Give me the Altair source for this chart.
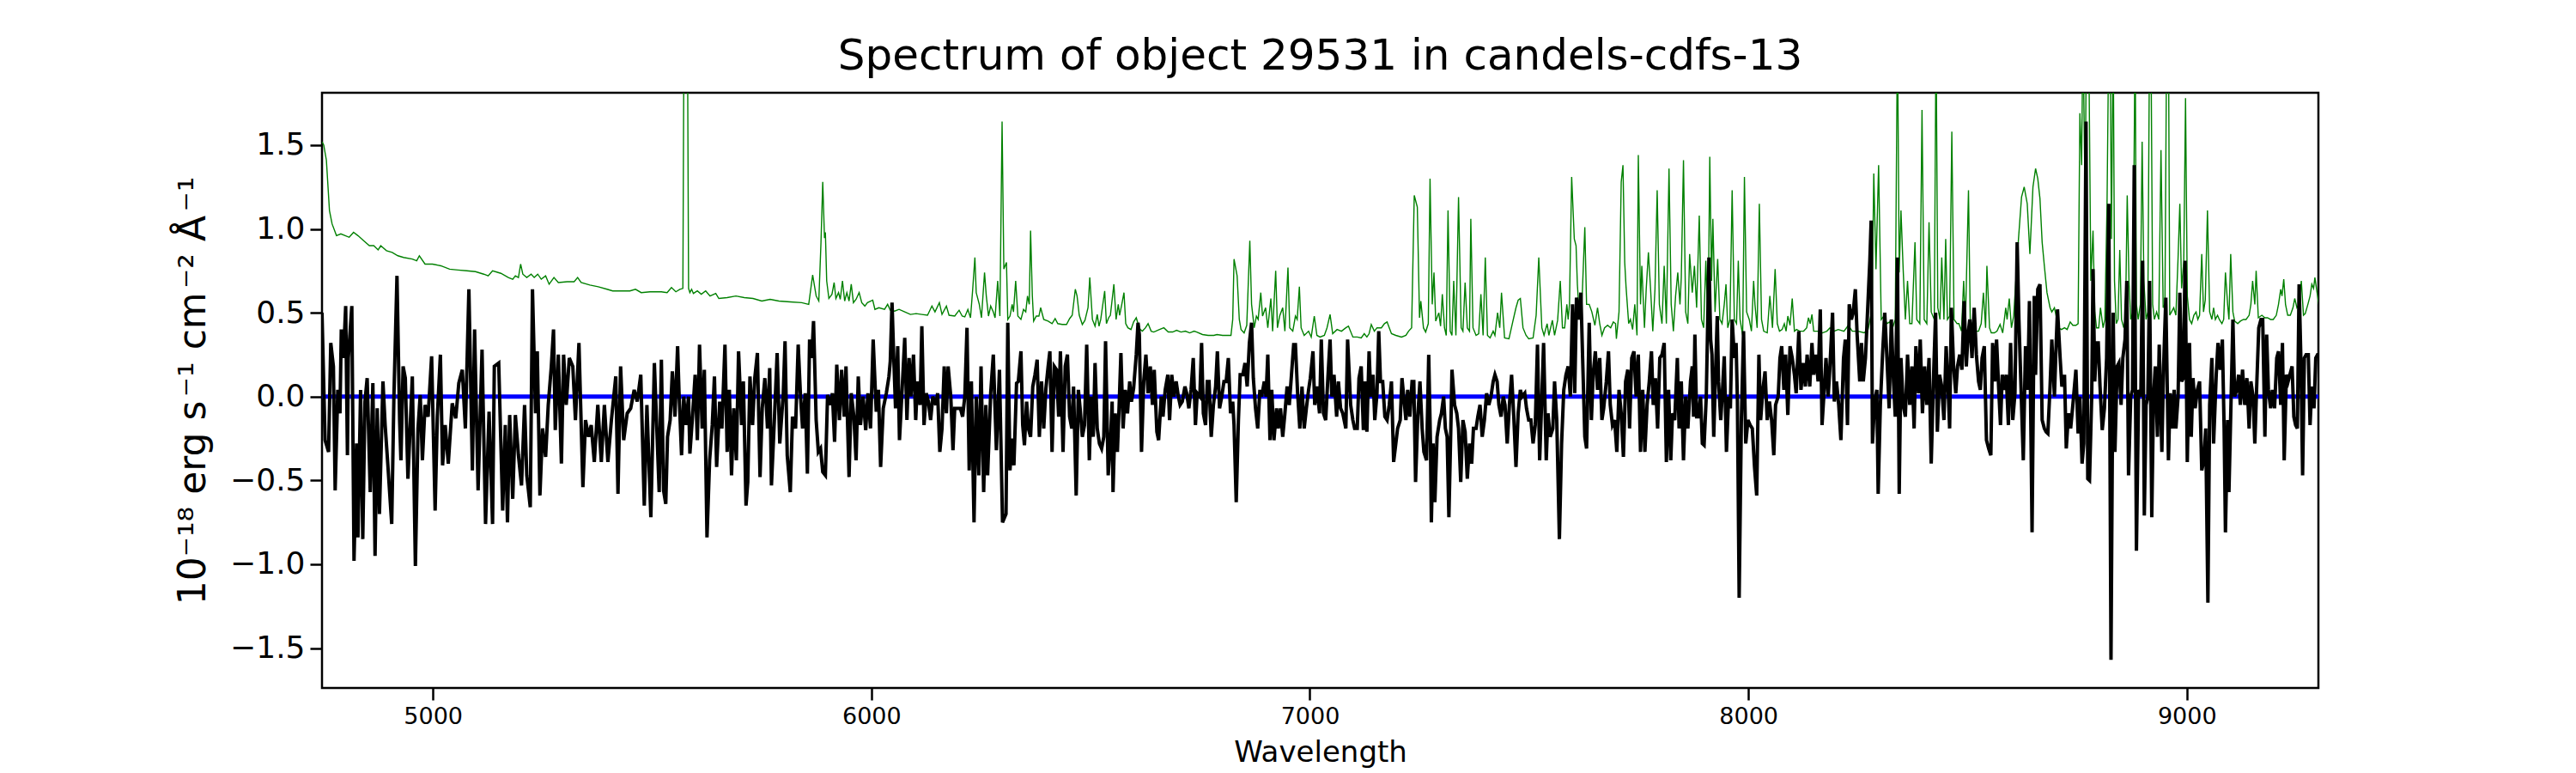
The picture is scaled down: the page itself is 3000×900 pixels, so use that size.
import altair as alt
import pandas as pd

TITLE = "Spectrum of object 29531 in candels-cdfs-13"
X_TITLE = "Wavelength"
Y_TITLE = "10\u207b\u00b9\u2078 erg s\u200a\u207b\u00b9 cm\u200a\u207b\u00b2 \u00c5\u200a\u207b\u00b9"

X_TICKS = [5000, 6000, 7000, 8000, 9000]
Y_TICKS = [-1.5, -1.0, -0.5, 0.0, 0.5, 1.0, 1.5]
X_DOMAIN = [4747, 9300]
Y_DOMAIN = [-1.738, 1.812]

BLACK_A = [(4747,0.50),(4754,-0.26),(4762,-0.33),(4767,0.32),(4773,0.18),(4777,-0.56),(4783,0.04),(4788,-0.10),(4791,0.40),(4796,0.23),(4801,0.54),(4805,-0.35),(4807,0.23),(4815,0.54),(4820,-0.98),(4826,-0.28),(4829,-0.84),(4835,0.04),(4840,-0.85),(4845,-0.03),(4850,0.11),(4857,-0.57),(4863,0.08),(4868,-0.95),(4873,-0.07),(4878,-0.70),(4886,0.09),(4891,-0.17),(4897,-0.40),(4906,-0.76),(4911,0.00),(4918,0.72),(4924,-0.14),(4927,-0.38),(4932,0.18),(4937,0.11),(4943,-0.49),(4953,0.12),(4960,-1.01),(4966,-0.19),(4971,0.01),(4976,-0.38),(4982,-0.05),(4989,-0.12),(4997,0.24),(5005,-0.68),(5010,-0.12),(5017,0.25),(5022,-0.41),(5028,-0.17),(5035,-0.40),(5044,-0.04),(5052,-0.13),(5059,0.08),(5067,0.16),(5074,-0.19),(5082,0.64),(5090,-0.44),(5095,0.40),(5103,-0.56),(5112,0.28),(5120,-0.76),(5128,-0.09),(5136,-0.76),(5140,0.18),(5150,0.20),(5159,-0.68),(5165,-0.17),(5170,-0.75),(5175,-0.11),(5182,-0.61),(5188,-0.11),(5195,-0.35),(5202,-0.53),(5209,-0.05),(5214,-0.47),(5222,-0.66),(5227,0.64),(5234,-0.10),(5238,0.27),(5244,-0.59),(5250,-0.19),(5257,-0.36),(5263,-0.05),(5270,0.18),(5275,0.40),(5279,-0.20),(5286,0.25),(5293,-0.40),(5298,0.25),(5304,-0.05),(5311,0.23),(5319,0.18),(5325,-0.14),(5333,0.32),(5342,-0.54),(5348,-0.14),(5355,-0.24),(5361,-0.17),(5368,-0.39),(5376,-0.05),(5384,-0.39),(5391,-0.05),(5399,-0.39),(5407,-0.14),(5417,0.12),(5422,-0.58),(5428,0.18),(5435,-0.26),(5443,-0.10),(5451,-0.07),(5459,0.04),(5466,-0.03),(5474,0.13),(5482,-0.65),(5488,-0.05),(5497,-0.72),(5505,0.20),(5516,-0.57)]
BLACK_B = [(5521,0.22),(5526,-0.56),(5531,-0.64),(5535,-0.24),(5541,-0.14),(5546,0.15),(5552,-0.12),(5558,0.30),(5561,0.04),(5567,-0.35),(5572,0.00),(5577,-0.17),(5583,0.00),(5586,-0.34),(5592,-0.12),(5598,0.13),(5603,-0.26),(5608,0.31),(5614,-0.19),(5619,0.16),(5625,-0.84),(5631,-0.38),(5637,-0.17),(5642,0.12),(5647,-0.42),(5654,-0.03),(5659,-0.19),(5666,0.31),(5671,-0.33),(5676,0.04),(5681,-0.47),(5686,-0.07),(5692,-0.38),(5697,0.27),(5704,-0.17),(5708,0.09),(5714,-0.65),(5718,-0.51),(5723,0.12),(5729,-0.17),(5734,0.11),(5740,0.26),(5746,-0.48),(5751,-0.07),(5757,0.11),(5763,-0.19),(5768,0.17),(5772,-0.53),(5779,-0.12),(5785,0.26),(5791,-0.28),(5799,0.02),(5803,0.33),(5808,-0.35),(5815,-0.57),(5820,-0.12),(5827,-0.19),(5833,0.31),(5838,0.02),(5843,-0.19),(5849,0.02),(5854,-0.46),(5859,0.34),(5864,0.23),(5868,0.45),(5874,-0.14),(5879,-0.33),(5884,-0.31),(5889,-0.45),(5895,-0.47),(5900,0.01),(5906,-0.05),(5911,0.02),(5916,-0.27),(5921,0.19),(5927,-0.14),(5932,0.16),(5938,-0.12),(5942,0.18),(5949,-0.48),(5954,0.02),(5960,-0.12),(5965,-0.38),(5970,0.12),(5975,-0.17),(5981,0.00),(5987,-0.20),(5992,0.02),(5998,-0.19),(6004,0.34),(6011,-0.09),(6016,0.04),(6021,-0.42),(6027,-0.07),(6034,0.02),(6040,0.12),(6043,0.21),(6047,0.56),(6051,0.23),(6055,-0.07),(6060,0.30),(6064,-0.26),(6070,0.04),(6076,0.35),(6081,-0.14),(6086,0.23),(6090,0.00),(6096,0.25),(6101,-0.14),(6105,0.09),(6111,-0.05),(6115,0.42),(6120,-0.17),(6125,0.02),(6130,-0.03),(6135,-0.14),(6140,0.00),(6147,-0.05),(6151,0.02),(6156,-0.33),(6161,-0.19),(6166,0.18),(6171,-0.10),(6175,0.18),(6181,0.00),(6186,-0.32),(6190,-0.07),(6197,-0.07),(6203,-0.07),(6208,-0.12),(6213,0.00),(6218,0.41),(6223,-0.44),(6228,0.09),(6234,-0.75),(6239,0.00),(6245,-0.47),(6250,0.18),(6256,-0.57),(6261,-0.05),(6265,-0.47),(6272,0.02),(6278,0.25),(6285,-0.32),(6292,0.16),(6299,-0.75)]
BLACK_C = [(6307,-0.70),(6311,0.44),(6316,-0.44),(6321,-0.25),(6325,-0.41),(6331,0.08),(6335,0.09),(6341,0.27),(6345,-0.17),(6349,-0.29),(6354,-0.03),(6358,-0.19),(6363,-0.24),(6368,0.06),(6373,0.13),(6378,0.22),(6383,-0.24),(6388,0.09),(6393,-0.19),(6398,0.05),(6403,0.18),(6407,0.27),(6412,-0.33),(6417,0.18),(6422,0.16),(6427,-0.12),(6431,0.27),(6437,-0.33),(6442,0.18),(6447,0.25),(6452,-0.12),(6457,-0.19),(6461,0.06),(6467,-0.59),(6472,0.04),(6476,-0.07),(6481,-0.24),(6486,-0.17),(6491,0.31),(6497,-0.38),(6501,0.00),(6506,-0.24),(6510,0.20),(6515,-0.19),(6520,-0.28),(6525,-0.31),(6530,-0.24),(6534,0.33),(6540,-0.47),(6545,-0.28),(6549,-0.03),(6551,-0.57),(6556,-0.10),(6561,-0.33),(6565,-0.05),(6569,0.26),(6574,-0.19),(6579,0.04),(6584,-0.10),(6589,0.09),(6593,-0.03),(6598,0.05),(6604,0.25),(6608,0.44),(6611,0.37),(6616,-0.33),(6621,0.09),(6626,0.25),(6631,0.02),(6636,0.18),(6641,-0.05),(6645,0.16),(6651,-0.21),(6655,-0.26),(6661,0.00),(6665,-0.12),(6670,0.04),(6676,0.13),(6680,-0.14),(6685,0.13),(6690,0.00),(6695,0.09),(6700,0.00),(6704,-0.05),(6709,-0.03),(6715,0.06),(6719,0.02),(6724,-0.07),(6729,0.04),(6734,0.23),(6739,-0.17),(6743,0.02),(6749,0.00),(6753,0.32),(6757,-0.10),(6762,-0.17),(6766,0.09),(6770,0.09),(6775,-0.24),(6780,-0.05),(6785,0.06),(6789,0.27),(6794,-0.07),(6799,0.00),(6804,0.09),(6809,0.09),(6814,0.23),(6819,-0.10),(6824,-0.03),(6827,-0.17),(6832,-0.63),(6837,-0.14),(6841,0.13),(6847,0.13),(6852,0.20),(6857,0.06),(6862,0.32),(6867,0.44),(6871,0.11),(6876,-0.07),(6881,-0.19),(6886,0.04),(6890,0.00),(6896,0.09),(6900,0.00),(6904,0.25),(6909,-0.26),(6913,0.04),(6918,-0.26),(6924,-0.07),(6928,-0.19),(6933,-0.07),(6938,-0.24),(6943,-0.10),(6948,0.06),(6953,-0.05),(6958,0.13),(6963,0.31),(6967,0.31),(6972,0.02),(6977,-0.19),(6982,0.06),(6987,-0.19),(6992,-0.07),(6997,0.04),(7001,0.11),(7007,0.27),(7011,-0.05),(7016,0.06),(7022,-0.10),(7026,0.34),(7031,-0.10),(7036,-0.14),(7041,0.11),(7046,0.34),(7050,0.00),(7055,0.13),(7061,-0.12),(7065,0.09),(7070,-0.07),(7075,-0.10),(7082,-0.19),(7086,0.34)]
BLACK_D = [(7093,-0.05),(7098,-0.14),(7102,-0.19),(7108,-0.19),(7112,0.11),(7117,0.18),(7122,-0.20),(7126,0.09),(7130,-0.21),(7135,0.27),(7139,0.00),(7144,0.13),(7148,-0.14),(7153,0.02),(7157,0.39),(7161,0.09),(7166,0.09),(7171,-0.12),(7176,-0.14),(7181,-0.05),(7186,0.09),(7191,-0.39),(7196,-0.28),(7200,-0.19),(7206,-0.14),(7210,0.11),(7214,0.00),(7219,-0.14),(7223,0.04),(7228,-0.12),(7233,0.09),(7237,0.09),(7241,-0.51),(7246,-0.12),(7251,0.09),(7256,-0.19),(7260,-0.33),(7266,-0.38),(7271,0.25),(7275,-0.28),(7277,-0.75),(7281,-0.28),(7285,-0.63),(7290,-0.24),(7296,-0.14),(7300,-0.10),(7305,0.00),(7309,-0.19),(7313,-0.24),(7317,-0.72),(7322,-0.12),(7324,0.16),(7330,-0.05),(7335,-0.10),(7339,-0.19),(7344,-0.51),(7349,-0.14),(7354,-0.21),(7359,-0.49),(7364,-0.28),(7369,-0.40),(7373,-0.19),(7379,-0.19),(7383,-0.12),(7388,-0.05),(7393,-0.24),(7398,-0.14),(7403,0.02),(7408,-0.05),(7413,0.00),(7418,0.09),(7422,0.13),(7427,0.09),(7431,-0.05),(7436,-0.12),(7441,0.00),(7445,-0.05),(7450,-0.28),(7455,-0.05),(7460,0.13),(7465,-0.12),(7470,-0.42),(7475,-0.10),(7480,0.04),(7484,0.00),(7490,0.02),(7494,-0.07),(7499,-0.14),(7504,-0.14),(7509,-0.28),(7514,-0.17),(7519,0.31),(7524,-0.38),(7529,0.00),(7533,0.32),(7539,-0.38),(7543,-0.10),(7548,-0.24),(7554,-0.19),(7558,0.09),(7563,-0.14),(7569,-0.85),(7574,-0.28),(7579,0.04),(7584,0.13),(7589,0.18),(7594,0.00),(7599,0.55),(7604,0.02),(7608,0.59),(7614,0.46),(7618,0.62),(7622,0.23),(7627,-0.24),(7631,-0.31),(7637,0.44),(7642,-0.14),(7646,0.13),(7651,0.27),(7656,0.04),(7661,0.23),(7666,-0.14),(7670,-0.07),(7676,0.09),(7681,0.27),(7685,-0.05),(7690,-0.17),(7695,-0.14),(7700,-0.33),(7705,0.04),(7710,-0.10),(7715,-0.36),(7720,0.09),(7725,0.16),(7729,-0.19),(7734,0.23),(7739,0.27),(7744,0.00),(7749,0.25),(7754,-0.33),(7759,0.04),(7764,-0.33),(7769,-0.05),(7774,0.09),(7779,0.27),(7783,-0.05),(7788,0.11),(7793,-0.19),(7798,0.23),(7803,0.25),(7808,0.32),(7813,-0.39),(7818,0.04),(7823,-0.38),(7827,-0.10),(7832,-0.14),(7838,0.23),(7842,-0.19),(7847,0.09),(7852,-0.38),(7857,0.00),(7862,-0.19),(7868,0.09)]
BLACK_E = [(7872,0.18),(7875,-0.12),(7878,0.37),(7882,-0.12),(7886,-0.12),(7891,0.00),(7895,-0.28),(7899,-0.29),(7904,0.00),(7910,0.83),(7914,0.34),(7917,0.25),(7921,-0.24),(7924,0.04),(7929,0.48),(7932,0.09),(7937,-0.14),(7941,0.04),(7945,0.24),(7950,-0.33),(7955,0.00),(7959,-0.07),(7963,0.46),(7968,0.23),(7972,0.32),(7975,-0.03),(7979,-1.20),(7984,-0.14),(7989,0.39),(7994,-0.28),(7999,-0.14),(8004,-0.17),(8009,-0.19),(8014,-0.42),(8019,-0.59),(8024,0.25),(8028,-0.14),(8033,0.04),(8038,0.15),(8043,-0.14),(8048,-0.03),(8053,-0.14),(8058,-0.35),(8062,-0.05),(8068,0.00),(8072,0.23),(8076,0.30),(8081,0.04),(8085,0.25),(8090,-0.11),(8095,0.30),(8100,0.23),(8105,0.13),(8109,0.02),(8115,0.39),(8120,0.04),(8125,0.20),(8130,0.06),(8134,0.25),(8140,0.06),(8145,0.32),(8149,0.13),(8154,0.25),(8159,0.09),(8164,0.52),(8168,-0.17),(8172,0.00),(8177,0.23),(8182,0.00),(8186,0.18),(8192,0.50),(8196,-0.03),(8201,0.09),(8206,-0.05),(8211,-0.26),(8217,0.23),(8221,0.34),(8226,-0.17),(8230,0.55),(8235,0.46),(8239,0.50),(8244,0.64),(8248,0.37),(8254,0.09),(8258,0.32),(8262,0.09),(8267,0.23),(8271,0.46),(8277,0.81),(8280,1.05),(8283,-0.28),(8288,-0.03),(8293,0.04),(8296,-0.58),(8301,-0.05),(8306,0.25),(8311,0.50),(8316,0.23),(8321,-0.07),(8326,0.46),(8331,0.09),(8335,-0.12),(8340,0.83),(8344,-0.58),(8348,0.23),(8353,-0.05),(8358,-0.12),(8363,0.25),(8368,-0.05),(8373,0.18),(8378,-0.19),(8382,0.30),(8388,0.02),(8392,0.34),(8397,-0.10),(8402,0.18),(8407,-0.05),(8412,0.23),(8417,-0.40),(8422,0.09),(8427,0.50),(8431,-0.21),(8436,0.13),(8441,0.06),(8446,-0.14),(8451,0.30),(8455,0.09),(8459,-0.19),(8463,0.53),(8468,0.18),(8473,0.02),(8477,0.18),(8482,0.25),(8487,0.16),(8492,0.57),(8497,0.18),(8501,0.37),(8505,0.46),(8510,0.23),(8515,0.53),(8520,0.25),(8525,0.09),(8529,0.04),(8533,0.23),(8538,0.30),(8543,-0.26),(8548,-0.31),(8553,-0.35),(8557,0.32),(8562,0.09),(8566,0.34),(8571,0.04),(8575,-0.17),(8579,0.13),(8583,0.04),(8588,0.13),(8593,-0.17),(8598,0.32),(8603,-0.14),(8608,0.02),(8613,0.92),(8617,0.46),(8623,-0.05),(8627,-0.38),(8632,0.30),(8637,0.04),(8641,0.57),(8647,-0.81),(8652,0.60)]
BLACK_F = [(8655,0.13),(8660,0.64),(8665,0.67),(8670,-0.14),(8675,-0.19),(8679,-0.21),(8683,-0.22),(8688,0.06),(8692,0.34),(8698,0.00),(8702,0.32),(8705,0.52),(8711,0.23),(8715,0.06),(8721,0.13),(8725,-0.31),(8730,-0.10),(8735,-0.19),(8740,-0.05),(8747,0.16),(8752,-0.22),(8756,0.00),(8761,-0.40),(8765,-0.28),(8770,1.64),(8774,-0.49),(8778,-0.50),(8783,0.00),(8786,0.76),(8790,0.09),(8794,0.32),(8798,0.32),(8802,0.06),(8807,-0.20),(8812,-0.07),(8817,0.23),(8822,1.15),(8827,-1.57),(8832,0.50),(8836,-0.33),(8841,0.18),(8845,0.20),(8850,-0.05),(8854,0.23),(8859,0.34),(8863,0.69),(8867,-0.47),(8872,0.00),(8876,0.04),(8880,1.38),(8885,-0.92),(8890,0.04),(8895,0.00),(8899,0.81),(8903,-0.71),(8907,-0.05),(8911,0.00),(8915,0.69),(8920,-0.72),(8924,0.00),(8928,0.18),(8933,-0.24),(8937,0.31),(8943,-0.33),(8947,0.18),(8952,0.59),(8958,-0.38),(8962,0.02),(8967,-0.19),(8971,0.04),(8975,-0.19),(8980,0.00),(8984,0.62),(8988,0.09),(8992,0.11),(8996,0.81),(9001,-0.39),(9006,0.32),(9010,-0.24),(9014,0.11),(9019,-0.07),(9024,0.04),(9029,0.09),(9034,-0.44),(9039,-0.38),(9043,-0.19),(9048,-1.23),(9052,-0.05),(9057,0.23),(9061,-0.28),(9067,0.13),(9071,0.32),(9076,0.16),(9081,0.34),(9085,-0.19),(9088,-0.81),(9093,-0.14),(9096,-0.57),(9101,0.00),(9105,0.46),(9109,0.00),(9114,0.04),(9118,0.13),(9122,-0.05),(9127,0.16),(9132,-0.05),(9137,0.11),(9142,-0.19),(9146,0.09),(9151,0.00),(9155,-0.28),(9159,0.04),(9164,0.41),(9169,0.46),(9173,0.46),(9178,-0.24),(9182,0.37),(9186,0.04),(9191,-0.07),(9195,0.04),(9200,-0.07),(9205,0.23),(9209,0.27),(9214,-0.05),(9218,0.32),(9222,-0.38),(9227,0.13),(9231,0.09),(9235,0.13),(9240,0.18),(9244,-0.12),(9248,-0.17),(9252,-0.19),(9256,0.67),(9260,0.23),(9264,-0.47),(9268,0.23),(9272,0.25),(9277,0.25),(9281,-0.17),(9285,0.06),(9290,-0.07),(9294,0.23),(9298,0.25),(9300,0.25)]

# second spectrum (green); lines that leave the top are given 2.2+
GREEN_A = [(4747,1.52),(4751,1.50),(4757,1.41),(4764,1.11),(4770,1.03),(4780,0.96),(4790,0.97),(4800,0.96),(4809,0.95),(4819,0.98),(4829,0.96),(4842,0.93),(4855,0.90),(4865,0.90),(4875,0.875),(4881,0.90),(4894,0.87),(4907,0.86),(4920,0.84),(4933,0.83),(4953,0.82),(4963,0.81),(4969,0.84),(4982,0.79),(4999,0.79),(5018,0.78),(5038,0.76),(5057,0.755),(5077,0.75),(5097,0.745),(5116,0.73),(5126,0.72),(5136,0.75),(5155,0.735),(5172,0.71),(5182,0.70),(5188,0.72),(5195,0.71),(5200,0.79),(5205,0.73),(5214,0.71),(5224,0.73),(5231,0.71),(5239,0.73),(5247,0.70),(5257,0.72),(5265,0.67),(5276,0.71),(5286,0.68),(5306,0.685),(5322,0.685),(5330,0.71),(5338,0.68),(5358,0.665),(5377,0.655),(5397,0.64),(5410,0.63),(5436,0.63),(5449,0.63),(5462,0.64),(5475,0.62),(5495,0.625)]
GREEN_B = [(5521,0.625),(5534,0.62),(5544,0.65),(5554,0.625),(5563,0.64),(5570,0.645),(5573,2.5),(5577,2.8),(5580,2.5),(5583,0.645),(5586,0.62),(5590,0.64),(5594,0.615),(5603,0.63),(5612,0.61),(5622,0.63),(5632,0.60),(5645,0.615),(5652,0.585),(5671,0.59),(5691,0.60),(5710,0.59),(5730,0.585),(5750,0.57),(5769,0.58),(5789,0.57),(5815,0.565),(5841,0.56),(5857,0.55),(5866,0.725),(5874,0.60),(5880,0.57),(5885,0.92),(5889,1.28),(5893,0.945),(5895,0.98),(5898,0.69),(5903,0.585),(5910,0.61),(5915,0.68),(5919,0.585),(5925,0.62),(5929,0.58),(5934,0.69),(5939,0.57),(5944,0.62),(5949,0.57),(5954,0.67),(5959,0.56),(5965,0.58),(5972,0.62),(5978,0.56),(5985,0.54),(5991,0.56),(6003,0.575),(6008,0.52),(6017,0.53),(6030,0.52),(6037,0.55),(6043,0.515),(6053,0.51),(6063,0.52),(6076,0.505),(6089,0.49),(6102,0.495),(6115,0.49),(6128,0.485),(6138,0.54),(6145,0.505),(6155,0.56),(6161,0.49),(6171,0.54),(6177,0.485),(6190,0.48),(6200,0.515),(6207,0.48),(6213,0.475),(6220,0.52),(6226,0.47),(6231,0.64),(6236,0.83),(6239,0.62),(6246,0.55),(6251,0.47),(6258,0.74),(6262,0.60),(6267,0.48),(6272,0.54),(6278,0.505),(6282,0.47),(6288,0.69),(6293,0.48),(6298,1.64),(6302,0.76)]
GREEN_C = [(6308,0.80),(6311,0.46),(6316,0.48),(6321,0.55),(6324,0.505),(6329,0.69),(6334,0.48),(6341,0.46),(6347,0.52),(6352,0.505),(6356,0.60),(6360,0.55),(6363,0.99),(6367,0.60),(6370,0.45),(6376,0.48),(6382,0.48),(6386,0.53),(6393,0.46),(6403,0.45),(6412,0.435),(6419,0.465),(6425,0.435),(6435,0.43),(6445,0.43),(6452,0.465),(6458,0.485),(6465,0.64),(6469,0.60),(6474,0.485),(6481,0.43),(6487,0.455),(6494,0.53),(6498,0.71),(6504,0.46),(6510,0.42),(6515,0.49),(6519,0.42),(6523,0.46),(6532,0.63),(6536,0.435),(6541,0.47),(6545,0.485),(6553,0.67),(6558,0.46),(6563,0.55),(6566,0.485),(6571,0.55),(6576,0.62),(6580,0.435),(6585,0.41),(6592,0.40),(6598,0.445),(6604,0.47),(6608,0.435),(6613,0.40),(6618,0.39),(6625,0.41),(6631,0.435),(6638,0.39),(6644,0.385),(6657,0.40),(6667,0.41),(6677,0.385),(6687,0.385),(6696,0.395),(6706,0.385),(6716,0.39),(6726,0.38),(6736,0.39),(6742,0.385),(6755,0.37),(6768,0.365),(6781,0.365),(6788,0.37),(6801,0.365),(6820,0.365),(6824,0.46),(6827,0.82),(6834,0.72),(6839,0.46),(6843,0.40),(6850,0.38),(6856,0.425),(6863,0.93),(6867,0.55),(6873,0.41),(6878,0.48),(6882,0.46),(6888,0.62),(6892,0.48),(6899,0.53),(6904,0.41),(6911,0.585),(6915,0.39),(6922,0.75),(6926,0.41),(6931,0.48),(6938,0.53),(6943,0.39),(6950,0.77),(6954,0.41),(6961,0.39),(6967,0.48),(6971,0.46),(6976,0.655),(6980,0.41),(6987,0.365),(6997,0.39),(7003,0.355),(7010,0.48),(7016,0.365),(7023,0.355),(7033,0.365),(7039,0.41),(7046,0.49),(7052,0.375),(7062,0.40),(7072,0.39),(7082,0.41),(7088,0.42)]
GREEN_D = [(7098,0.355),(7108,0.355),(7117,0.35),(7124,0.375),(7130,0.355),(7135,0.375),(7140,0.43),(7147,0.39),(7153,0.41),(7163,0.41),(7170,0.435),(7176,0.445),(7186,0.375),(7196,0.365),(7209,0.355),(7219,0.365),(7225,0.39),(7232,0.41),(7238,1.20),(7245,1.13),(7250,0.47),(7253,0.57),(7259,0.41),(7264,0.385),(7270,0.435),(7274,1.30),(7279,0.55),(7283,0.74),(7287,0.45),(7294,0.50),(7298,0.42),(7302,0.61),(7307,0.41),(7311,0.365),(7315,1.11),(7320,0.39),(7324,0.365),(7328,0.69),(7333,0.365),(7339,1.19),(7345,0.41),(7349,0.39),(7354,0.68),(7359,0.41),(7364,0.39),(7367,1.06),(7372,0.41),(7379,0.365),(7385,0.375),(7390,0.61),(7395,0.365),(7400,0.83),(7405,0.365),(7411,0.35),(7418,0.39),(7422,0.365),(7428,0.50),(7433,0.41),(7437,0.62),(7444,0.35),(7454,0.345),(7463,0.45),(7470,0.53),(7475,0.575),(7480,0.585),(7486,0.41),(7493,0.365),(7499,0.345),(7509,0.35),(7516,0.485),(7522,0.83),(7529,0.41),(7534,0.365),(7541,0.435),(7545,0.365),(7553,0.455),(7558,0.365),(7565,0.455),(7571,0.69),(7576,0.41),(7581,0.41),(7586,0.55),(7589,0.46),(7592,0.55),(7597,1.31),(7603,0.94),(7607,0.90),(7610,0.67),(7615,0.46),(7620,0.53),(7627,1.01),(7631,0.55),(7637,0.55),(7643,0.505),(7650,0.425),(7656,0.53),(7661,0.435),(7666,0.365),(7672,0.41),(7679,0.425),(7686,0.41),(7692,0.445),(7697,0.435),(7699,0.345),(7705,0.505),(7710,1.28),(7714,1.38),(7718,0.80),(7721,0.655),(7727,0.435),(7731,0.46),(7736,0.40),(7741,0.55),(7746,0.365),(7749,1.44),(7754,0.55),(7757,0.78),(7763,0.41),(7767,0.64),(7772,0.86),(7777,0.64),(7782,0.39),(7787,0.64),(7792,1.23),(7797,0.55),(7803,0.435),(7808,0.78),(7813,0.435),(7819,1.36),(7824,0.55),(7829,0.39),(7834,0.60),(7839,0.74),(7844,0.55),(7847,0.71),(7852,1.41),(7857,0.505),(7862,0.435),(7866,0.85),(7872,0.62)]
GREEN_E = [(7877,0.78),(7882,0.53),(7888,1.08),(7893,0.46),(7898,0.41),(7903,0.81),(7908,0.40),(7912,1.43),(7916,0.69),(7919,1.06),(7924,0.505),(7930,0.82),(7935,0.46),(7940,0.435),(7945,0.55),(7949,0.67),(7953,0.41),(7958,0.46),(7963,1.23),(7968,0.46),(7973,0.435),(7977,0.81),(7981,0.46),(7987,0.365),(7991,1.31),(7996,0.505),(8002,0.46),(8007,0.39),(8012,0.69),(8015,0.55),(8020,0.41),(8025,1.15),(8030,0.46),(8035,0.39),(8043,0.38),(8049,0.60),(8055,0.41),(8061,0.76),(8066,0.435),(8071,0.39),(8077,0.40),(8082,0.435),(8086,0.39),(8090,0.48),(8095,0.425),(8100,0.585),(8105,0.39),(8110,0.40),(8117,0.39),(8126,0.39),(8133,0.41),(8137,0.47),(8141,0.435),(8145,0.49),(8149,0.39),(8159,0.39),(8169,0.38),(8179,0.39),(8186,0.41),(8195,0.39),(8205,0.40),(8218,0.39),(8228,0.425),(8237,0.39),(8250,0.39),(8264,0.38),(8273,0.40),(8282,0.52),(8286,1.33),(8291,0.76),(8297,1.38),(8303,0.46),(8309,0.48),(8316,0.435),(8322,0.445),(8329,0.41),(8335,0.46),(8340,2.2),(8344,0.74),(8348,1.11),(8353,0.76),(8358,0.46),(8363,0.69),(8368,0.435),(8373,0.435),(8380,0.92),(8384,0.46),(8391,0.435),(8396,1.71),(8401,0.46),(8407,0.435),(8412,1.04),(8417,0.505),(8424,0.46),(8428,2.2),(8432,0.53),(8437,0.46),(8441,0.83),(8446,0.46),(8450,0.94),(8454,0.46),(8459,0.48),(8464,1.58),(8469,0.46),(8476,0.435),(8480,0.435),(8486,0.39),(8491,0.69),(8495,0.435),(8502,1.23),(8506,0.46),(8512,0.41),(8518,0.39),(8525,0.39),(8531,0.435),(8536,0.62),(8541,0.41),(8544,0.78),(8550,0.41),(8554,0.38),(8561,0.38),(8567,0.39),(8574,0.43),(8580,0.38),(8587,0.53),(8590,0.46),(8595,0.585),(8600,0.41),(8605,0.48),(8610,0.69),(8616,0.94),(8623,1.19),(8629,1.25),(8636,1.15),(8642,0.85),(8649,1.25),(8655,1.36)]
GREEN_F = [(8660,1.30),(8665,1.18),(8670,0.92),(8675,0.78),(8681,0.62),(8688,0.53),(8692,0.505),(8698,0.53),(8702,0.48),(8707,0.41),(8714,0.40),(8721,0.41),(8727,0.40),(8734,0.445),(8740,0.425),(8747,0.425),(8752,0.435),(8756,1.69),(8760,1.38),(8763,2.2),(8768,1.15),(8771,2.2),(8776,2.2),(8781,0.69),(8786,0.99),(8790,0.505),(8794,0.41),(8799,0.41),(8803,0.53),(8809,0.41),(8813,0.46),(8818,1.15),(8822,2.2),(8825,2.2),(8828,0.94),(8832,2.2),(8835,0.69),(8839,0.435),(8843,0.46),(8847,0.875),(8851,0.46),(8856,0.41),(8860,0.46),(8864,1.20),(8868,0.69),(8872,0.46),(8877,0.505),(8882,2.2),(8885,0.55),(8889,0.46),(8894,0.55),(8898,1.52),(8902,0.69),(8907,0.46),(8911,0.505),(8915,2.2),(8918,2.2),(8922,0.55),(8926,0.46),(8931,0.505),(8936,0.46),(8941,1.47),(8946,0.53),(8950,0.55),(8954,2.2),(8958,2.2),(8961,0.485),(8965,0.505),(8970,0.53),(8975,0.485),(8980,0.83),(8984,1.15),(8988,0.645),(8993,0.81),(8997,1.78),(9001,0.60),(9006,0.46),(9011,0.435),(9016,0.485),(9021,0.505),(9025,0.46),(9029,0.485),(9034,0.85),(9038,0.505),(9042,0.575),(9047,1.11),(9052,0.505),(9057,0.46),(9061,0.53),(9065,0.46),(9070,0.485),(9074,0.46),(9080,0.435),(9084,0.46),(9088,0.74),(9093,0.55),(9096,0.46),(9100,0.85),(9105,0.505),(9109,0.45),(9116,0.435),(9122,0.45),(9129,0.46),(9135,0.46),(9142,0.485),(9146,0.55),(9150,0.69),(9155,0.55),(9158,0.75),(9163,0.47),(9171,0.485),(9178,0.47),(9184,0.47),(9191,0.46),(9197,0.46),(9204,0.485),(9209,0.55),(9214,0.64),(9217,0.60),(9221,0.70),(9225,0.55),(9230,0.485),(9236,0.485),(9242,0.53),(9246,0.585),(9251,0.53),(9256,0.55),(9261,0.69),(9266,0.485),(9270,0.495),(9276,0.55),(9281,0.60),(9285,0.67),(9289,0.645),(9292,0.71),(9297,0.62),(9301,0.55)]

# zero model (blue)
BLUE = [(4747, 0.0), (9300, 0.0)]

FONT = "DejaVu Sans"


def frame(pairs):
    return pd.DataFrame(pairs, columns=["wave", "flux"])


black = frame(BLACK_A + BLACK_B + BLACK_C + BLACK_D + BLACK_E + BLACK_F)
green = frame(GREEN_A + GREEN_B + GREEN_C + GREEN_D + GREEN_E + GREEN_F)
blue = frame(BLUE)

x_enc = alt.X(
    "wave:Q",
    scale=alt.Scale(domain=X_DOMAIN, nice=False, zero=False),
    axis=alt.Axis(
        values=X_TICKS, format="d", title=X_TITLE, labelFontSize=27,
        titleFontSize=34, labelPadding=6, titlePadding=12,
    ),
)
y_enc = alt.Y(
    "flux:Q",
    scale=alt.Scale(domain=Y_DOMAIN, nice=False, zero=False),
    axis=alt.Axis(
        values=Y_TICKS, format=".1f", title=Y_TITLE, labelFontSize=36,
        titleFontSize=44, labelPadding=6, titlePadding=20,
    ),
)

g = alt.Chart(green).mark_line(color="#008000", strokeWidth=1.4, clip=True).encode(x=x_enc, y=y_enc)
b = alt.Chart(blue).mark_line(color="#0000ff", strokeWidth=5, clip=True).encode(x=x_enc, y=y_enc)
k = alt.Chart(black).mark_line(color="#000000", strokeWidth=4, clip=True, strokeJoin="miter").encode(x=x_enc, y=y_enc)

chart = (
    alt.layer(g, b, k)
    .properties(
        width=2325,
        height=693,
        title=alt.TitleParams(
            text=TITLE, fontSize=50, font=FONT, fontWeight="normal",
            anchor="middle", baseline="alphabetic", offset=-23, color="#000000",
        ),
        autosize=alt.AutoSizeParams(type="none"),
        padding={"left": 367, "top": 100, "right": 60, "bottom": 96},
    )
    .configure(background="#ffffff")
    .configure_view(stroke="#000000", strokeWidth=2.5)
    .configure_axis(
        domain=False, grid=False, tickColor="#000000", tickWidth=2.5, tickSize=14,
        labelColor="#000000", titleColor="#000000", labelFont=FONT, titleFont=FONT,
        titleFontWeight="normal",
    )
)

chart.save("out.html", embed_options={"renderer": "svg", "actions": False})
